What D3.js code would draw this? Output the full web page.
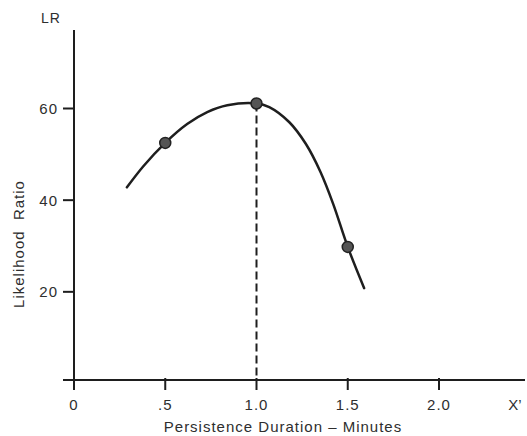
<!DOCTYPE html>
<html>
<head>
  <script src="https://d3js.org/d3.v7.min.js"></script>
  <style>
    body { margin: 0; background: #fff; }
    text { font-family: "Liberation Sans", Arial, sans-serif; fill: #2e2e2e; }
  </style>
</head>
<body>
  <div id="chart"></div>
  <script>
    // values
    const xTicks = [0, 0.5, 1, 1.5, 2];
    const xTickLabels = ["0", ".5", "1.0", "1.5", "2.0"];
    const yTicks = [20, 40, 60];
    const yTickLabels = ["20", "40", "60"];

    // smooth curve
    const curveX = [0.29, 0.38, 0.50, 0.62, 0.73, 0.84, 1.00, 1.07, 1.18, 1.27, 1.35, 1.42, 1.50, 1.59];
    const curveY = [42.8, 47.4, 52.5, 56.6, 59.2, 60.7, 61.1, 60.3, 57.0, 52.3, 46.2, 39.2, 29.8, 20.8];

    // observed points
    const pointX = [0.5, 1.0, 1.5];
    const pointY = [52.5, 61.1, 29.8];

    const W = 527, H = 436;
    const axisY = 380, axisX = 74;

    const svg = d3.select("#chart").append("svg")
      .attr("width", W)
      .attr("height", H);

    const x = d3.scaleLinear().domain([0, 2]).range([74, 439]);
    const y = d3.scaleLinear().domain([0, 60]).range([383.5, 108.5]);

    const ink = "#1e1e1e";

    // x axis
    svg.append("line")
      .attr("x1", 63).attr("x2", 525)
      .attr("y1", axisY).attr("y2", axisY)
      .attr("stroke", ink).attr("stroke-width", 2);

    svg.selectAll(".xtick").data(xTicks.slice(1)).enter()
      .append("line")
      .attr("x1", d => x(d)).attr("x2", d => x(d))
      .attr("y1", axisY - 2).attr("y2", axisY + 10)
      .attr("stroke", ink).attr("stroke-width", 2);

    svg.selectAll(".xlab").data(xTicks).enter()
      .append("text")
      .attr("x", d => x(d))
      .attr("y", 410)
      .attr("text-anchor", "middle")
      .style("font-size", "15px")
      .style("letter-spacing", "1px")
      .text((d, i) => xTickLabels[i]);

    svg.append("text")
      .attr("x", 515).attr("y", 410)
      .attr("text-anchor", "middle")
      .style("font-size", "15px")
      .text("X\u2019");

    svg.append("text")
      .attr("x", 283).attr("y", 432)
      .attr("text-anchor", "middle")
      .style("font-size", "15px")
      .style("letter-spacing", "1px")
      .text("Persistence Duration \u2013 Minutes");

    // y axis
    svg.append("line")
      .attr("x1", axisX).attr("x2", axisX)
      .attr("y1", 30).attr("y2", 390)
      .attr("stroke", ink).attr("stroke-width", 2);

    svg.selectAll(".ytick").data(yTicks).enter()
      .append("line")
      .attr("x1", 63).attr("x2", axisX)
      .attr("y1", d => y(d)).attr("y2", d => y(d))
      .attr("stroke", ink).attr("stroke-width", 2);

    svg.selectAll(".ylab").data(yTicks).enter()
      .append("text")
      .attr("x", 58)
      .attr("y", d => y(d))
      .attr("dy", "0.36em")
      .attr("text-anchor", "end")
      .style("font-size", "15px")
      .style("letter-spacing", "1px")
      .text((d, i) => yTickLabels[i]);

    svg.append("text")
      .attr("x", 51).attr("y", 23)
      .attr("text-anchor", "middle")
      .style("font-size", "14px")
      .style("letter-spacing", "1px")
      .text("LR");

    svg.append("text")
      .attr("transform", "translate(24,244) rotate(-90)")
      .attr("text-anchor", "middle")
      .style("font-size", "15px")
      .style("letter-spacing", "1px")
      .style("white-space", "pre")
      .text("Likelihood  Ratio");

    // dashed drop line at the peak
    svg.append("line")
      .attr("x1", x(pointX[1])).attr("x2", x(pointX[1]))
      .attr("y1", y(pointY[1])).attr("y2", axisY)
      .attr("stroke", ink).attr("stroke-width", 2)
      .attr("stroke-dasharray", "8,4");

    // curve
    const curveData = curveX.map((d, i) => [d, curveY[i]]);
    const line = d3.line()
      .x(d => x(d[0]))
      .y(d => y(d[1]))
      .curve(d3.curveCatmullRom.alpha(0.5));

    svg.append("path")
      .datum(curveData)
      .attr("d", line)
      .attr("fill", "none")
      .attr("stroke", ink)
      .attr("stroke-width", 2.5)
      .attr("stroke-linecap", "round");

    // points
    svg.selectAll(".pt").data(pointX).enter()
      .append("circle")
      .attr("cx", d => x(d))
      .attr("cy", (d, i) => y(pointY[i]))
      .attr("r", 5.5)
      .attr("fill", "#555")
      .attr("stroke", "#222")
      .attr("stroke-width", 1.5);
  </script>
</body>
</html>
